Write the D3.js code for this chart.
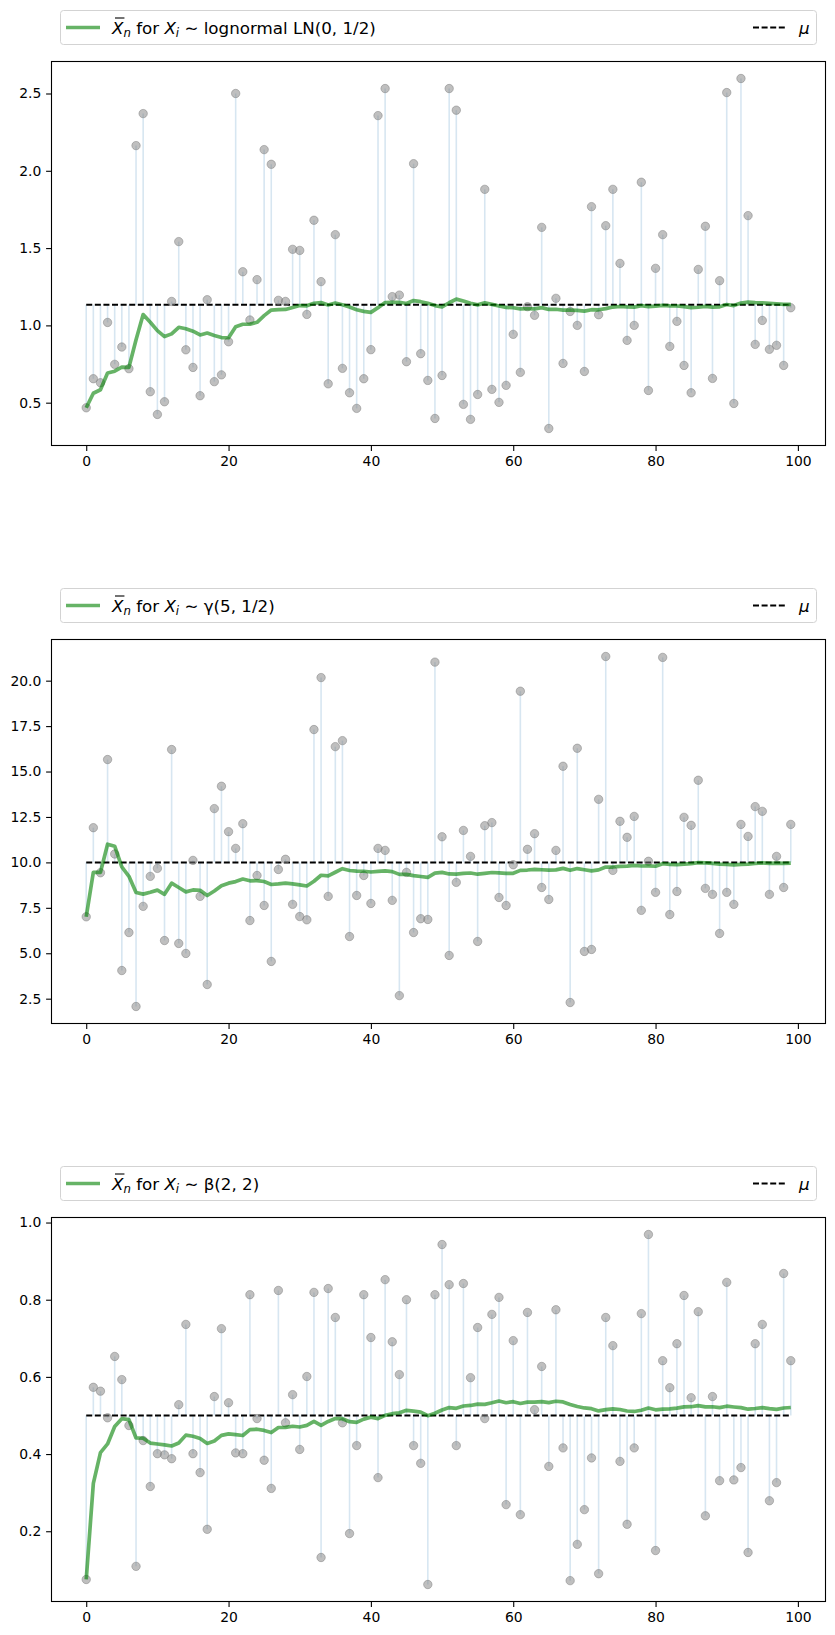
<!DOCTYPE html>
<html>
<head>
<meta charset="utf-8">
<script src="https://cdn.jsdelivr.net/npm/d3@7"></script>
<style>
    body { margin: 0; background: #fff; }
    text { font-family: "DejaVu Sans", sans-serif; }
    .tick text { font-size: 13.9px; fill: #000; }
    .tick line { stroke: #000; stroke-width: 1.1px; }
    path.running { fill: none; stroke: green; stroke-opacity: .6; stroke-width: 3.7px; stroke-linejoin: round; }
    line.stem { stroke: #1f77b4; stroke-opacity: .18; stroke-width: 1.6px; }
    line.mu { stroke: #000; stroke-width: 2px; stroke-dasharray: 6 2.6; }
    circle.draw { fill: #808080; fill-opacity: .5; stroke: #808080; stroke-opacity: .5; stroke-width: 1px; }
</style>
</head>
<body>
<script>

    var steps = d3.range(100);
    var xTicks = [0, 20, 40, 60, 80, 100];

    var lognormalDraws = [
        0.467, 0.655, 0.629, 1.019, 0.748, 0.860, 0.720, 2.163, 2.370, 0.571,
        0.424, 0.506, 1.155, 1.542, 0.842, 0.728, 0.545, 1.166, 0.636, 0.680,
        0.894, 2.500, 1.347, 1.035, 1.296, 2.137, 2.042, 1.162, 1.155, 1.492,
        1.485, 1.071, 1.680, 1.283, 0.622, 1.587, 0.722, 0.564, 0.463, 0.655,
        0.843, 2.357, 2.532, 1.186, 1.196, 0.765, 2.046, 0.817, 0.644, 0.398,
        0.676, 2.532, 2.392, 0.489, 0.392, 0.553, 1.880, 0.586, 0.502, 0.612,
        0.942, 0.696, 1.121, 1.065, 1.634, 0.333, 1.175, 0.754, 1.090, 1.000,
        0.702, 1.768, 1.069, 1.645, 1.880, 1.401, 0.903, 1.000, 1.926, 0.579,
        1.369, 1.587, 0.864, 1.026, 0.741, 0.564, 1.362, 1.641, 0.657, 1.289,
        2.506, 0.495, 2.597, 1.710, 0.877, 1.032, 0.845, 0.871, 0.741, 1.114
    ];

    var gammaDraws = [
        7.006, 11.91, 9.43, 15.66, 10.46, 4.05, 6.14, 2.07, 7.58, 9.23,
        9.67, 5.70, 16.21, 5.54, 4.99, 10.11, 8.13, 3.28, 12.96, 14.19,
        11.69, 10.77, 12.13, 6.80, 9.28, 7.63, 4.55, 9.61, 10.17, 7.69,
        7.02, 6.84, 17.31, 20.17, 8.13, 16.37, 16.70, 5.92, 8.18, 9.28,
        7.74, 10.77, 10.66, 7.91, 2.67, 9.45, 6.14, 6.90, 6.86, 21.02,
        11.41, 4.88, 8.90, 11.76, 10.33, 5.65, 12.02, 12.19, 8.07, 7.63,
        9.87, 19.42, 10.72, 11.58, 8.62, 7.96, 10.66, 15.29, 2.29, 16.28,
        5.10, 5.21, 13.47, 21.33, 9.56, 12.26, 11.38, 12.53, 7.36, 10.06,
        8.35, 21.28, 7.13, 8.40, 12.48, 12.04, 14.52, 8.57, 8.24, 6.09,
        8.35, 7.69, 12.09, 11.43, 13.07, 12.81, 8.24, 10.33, 8.62, 12.09
    ];

    var betaDraws = [
        0.075, 0.573, 0.563, 0.494, 0.653, 0.593, 0.474, 0.109, 0.435, 0.316,
        0.401, 0.398, 0.388, 0.528, 0.736, 0.401, 0.352, 0.205, 0.549, 0.725,
        0.533, 0.403, 0.401, 0.813, 0.492, 0.384, 0.311, 0.824, 0.481, 0.554,
        0.412, 0.601, 0.819, 0.132, 0.829, 0.754, 0.481, 0.194, 0.422, 0.813,
        0.702, 0.339, 0.852, 0.691, 0.606, 0.800, 0.422, 0.376, 0.062, 0.813,
        0.943, 0.839, 0.422, 0.842, 0.598, 0.728, 0.492, 0.762, 0.806, 0.269,
        0.694, 0.243, 0.767, 0.515, 0.627, 0.368, 0.774, 0.416, 0.072, 0.166,
        0.256, 0.390, 0.090, 0.754, 0.681, 0.381, 0.218, 0.416, 0.764, 0.969,
        0.150, 0.642, 0.572, 0.686, 0.811, 0.546, 0.769, 0.240, 0.549, 0.331,
        0.845, 0.333, 0.365, 0.145, 0.686, 0.736, 0.279, 0.326, 0.868, 0.642
    ];

    var means = [1.133, 10, 0.5];
    var distLabels = ["lognormal LN(0, 1/2)", "\u03b3(5, 1/2)", "\u03b2(2, 2)"];
    var yTicks = [
        [0.5, 1.0, 1.5, 2.0, 2.5],
        [2.5, 5.0, 7.5, 10.0, 12.5, 15.0, 17.5, 20.0],
        [0.2, 0.4, 0.6, 0.8, 1.0]
    ];

    var width = 835;
    var height = 1635;
    var plotLeft = 51, plotRight = 826, plotHeight = 385;
    var panelTops = [61, 639, 1217];

    var svg = d3.select("body").append("svg")
        .attr("width", width)
        .attr("height", height);

    var x = d3.scaleLinear()
        .domain([-4.95, 103.95])
        .range([plotLeft, plotRight]);

    function drawPanel(draws, mu, label, ticks, top) {
        var ext = d3.extent(draws);
        var pad = (ext[1] - ext[0]) * 0.05;
        var y = d3.scaleLinear()
            .domain([ext[0] - pad, ext[1] + pad])
            .range([top + plotHeight, top]);

        var g = svg.append("g");

        // stems from the mean to each draw
        g.selectAll("line.stem")
            .data(draws)
            .enter()
            .append("line")
            .attr("class", "stem")
            .attr("x1", function (d, i) { return x(steps[i]); })
            .attr("x2", function (d, i) { return x(steps[i]); })
            .attr("y1", y(mu))
            .attr("y2", function (d) { return y(d); });

        g.append("line")
            .attr("class", "mu")
            .attr("x1", x(steps[0]))
            .attr("x2", x(steps[steps.length - 1]))
            .attr("y1", y(mu))
            .attr("y2", y(mu));

        g.selectAll("circle.draw")
            .data(draws)
            .enter()
            .append("circle")
            .attr("class", "draw")
            .attr("r", 4.2)
            .attr("cx", function (d, i) { return x(steps[i]); })
            .attr("cy", function (d) { return y(d); });

        var running = Array.from(d3.cumsum(draws)).map(function (s, i) {
            return s / (i + 1);
        });

        g.append("path")
            .attr("class", "running")
            .datum(running)
            .attr("d", d3.line()
                .x(function (d, i) { return x(steps[i]); })
                .y(function (d) { return y(d); }));

        // axes
        var xAxis = g.append("g")
            .attr("transform", "translate(0," + (top + plotHeight) + ")")
            .call(d3.axisBottom(x).tickValues(xTicks).tickFormat(d3.format("d"))
                .tickSize(4.9).tickPadding(4.5));
        xAxis.select(".domain").remove();
        xAxis.selectAll(".tick text").attr("dy", "0.76em");

        var yAxis = g.append("g")
            .attr("transform", "translate(" + plotLeft + ",0)")
            .call(d3.axisLeft(y).tickValues(ticks).tickFormat(d3.format(".1f"))
                .tickSize(4.9).tickPadding(4.8));
        yAxis.select(".domain").remove();

        g.append("rect")
            .attr("x", plotLeft + 0.5)
            .attr("y", top + 0.5)
            .attr("width", plotRight - plotLeft - 1)
            .attr("height", plotHeight - 1)
            .attr("fill", "none")
            .attr("stroke", "#000")
            .attr("stroke-width", 1.1);

        drawLegend(label, top);
    }

    function drawLegend(label, top) {
        var boxTop = top - 51;
        var cy = boxTop + 17.5;
        var lg = svg.append("g");

        lg.append("rect")
            .attr("x", 60.5)
            .attr("y", boxTop + 0.5)
            .attr("width", 756)
            .attr("height", 34)
            .attr("rx", 3)
            .attr("fill", "#fff")
            .attr("fill-opacity", 0.8)
            .attr("stroke", "#d3d3d3")
            .attr("stroke-width", 1);

        lg.append("line")
            .attr("x1", 66).attr("x2", 100)
            .attr("y1", cy).attr("y2", cy)
            .attr("stroke", "green")
            .attr("stroke-opacity", 0.6)
            .attr("stroke-width", 3.7);

        var txt = lg.append("text")
            .attr("x", 112)
            .attr("y", cy + 6)
            .style("font-size", "16.7px");

        txt.append("tspan").style("font-style", "italic").text("X");
        txt.append("tspan").style("font-style", "italic").style("font-size", "11.7px")
            .attr("dy", 3.6).text("n");
        txt.append("tspan").attr("dy", -3.6).text(" for ");
        txt.append("tspan").style("font-style", "italic").text("X");
        txt.append("tspan").style("font-style", "italic").style("font-size", "11.7px")
            .attr("dy", 3.6).text("i");
        txt.append("tspan").attr("dy", -3.6).text(" \u223c ");
        txt.append("tspan").text(label);

        // bar over the first X
        var box = txt.node().getExtentOfChar(0);
        lg.append("line")
            .attr("x1", box.x + 3)
            .attr("x2", box.x + box.width + 1)
            .attr("y1", cy - 9.5)
            .attr("y2", cy - 9.5)
            .attr("stroke", "#000")
            .attr("stroke-width", 1.1);

        lg.append("line")
            .attr("x1", 753).attr("x2", 787)
            .attr("y1", cy).attr("y2", cy)
            .attr("stroke", "#000")
            .attr("stroke-width", 2)
            .attr("stroke-dasharray", "6 2.6");

        lg.append("text")
            .attr("x", 799)
            .attr("y", cy + 6)
            .style("font-size", "16.7px")
            .style("font-style", "italic")
            .text("\u03bc");
    }

    drawPanel(lognormalDraws, means[0], distLabels[0], yTicks[0], panelTops[0]);
    drawPanel(gammaDraws, means[1], distLabels[1], yTicks[1], panelTops[1]);
    drawPanel(betaDraws, means[2], distLabels[2], yTicks[2], panelTops[2]);

</script>
</body>
</html>
